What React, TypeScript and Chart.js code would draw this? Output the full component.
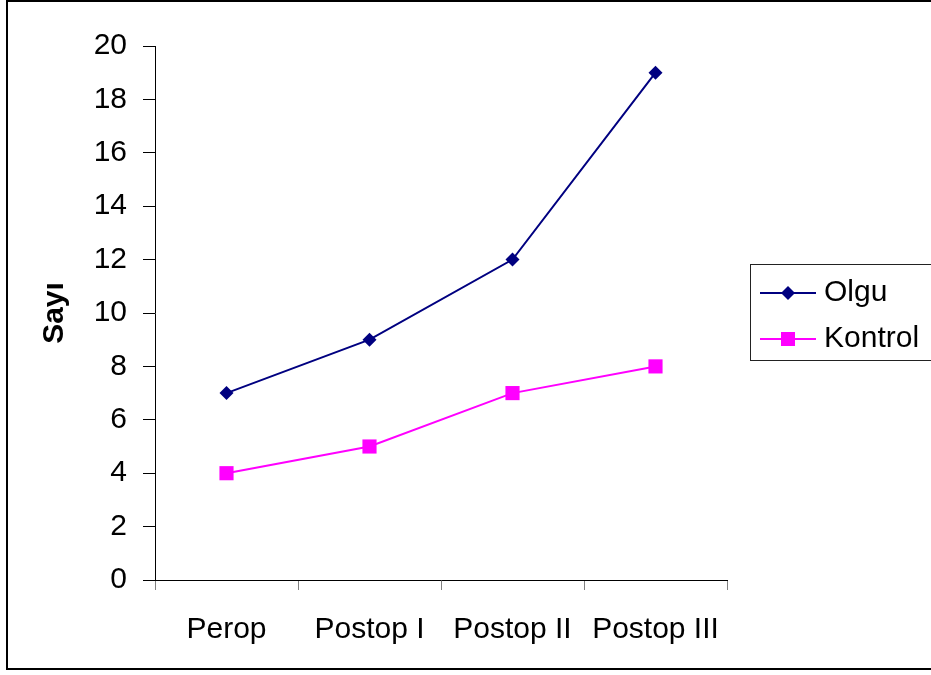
import React, { useEffect, useRef } from "react";
import { Chart, registerables } from "chart.js";

Chart.register(...registerables);

const categories = ["Perop", "Postop I", "Postop II", "Postop III"];
const olguValues = [7, 9, 12, 19];
const kontrolValues = [4, 5, 7, 8];
const seriesNames = ["Olgu", "Kontrol"];
const yTitle = "Sayı";

const FONT = "'Liberation Sans', Arial, sans-serif";

const framePlugin = {
  id: "frame",
  afterDraw(chart: any) {
    const ctx = chart.ctx;
    ctx.save();
    // outer border
    ctx.strokeStyle = "#000";
    ctx.lineWidth = 2;
    ctx.strokeRect(7, 1, 940, 668);
    // legend box
    ctx.lineWidth = 1;
    ctx.strokeStyle = "#222";
    ctx.strokeRect(750.5, 264.5, 200, 96);
    const rows = [293, 339];
    chart.data.datasets.forEach((ds: any, i: number) => {
      const y = rows[i];
      ctx.strokeStyle = ds.borderColor;
      ctx.lineWidth = 2;
      ctx.beginPath();
      ctx.moveTo(760, y);
      ctx.lineTo(816, y);
      ctx.stroke();
      ctx.fillStyle = ds.pointBackgroundColor;
      ctx.beginPath();
      if (ds.pointStyle === "rectRot") {
        const r = 7;
        ctx.moveTo(788, y - r);
        ctx.lineTo(788 + r, y);
        ctx.lineTo(788, y + r);
        ctx.lineTo(788 - r, y);
        ctx.closePath();
      } else {
        ctx.rect(788 - 7, y - 7, 14, 14);
      }
      ctx.fill();
      ctx.fillStyle = "#000";
      ctx.font = `30px ${FONT}`;
      ctx.textBaseline = "middle";
      ctx.textAlign = "left";
      ctx.fillText(ds.label, 824, y);
    });
    ctx.restore();
  },
};

export default function App() {
  const ref = useRef<HTMLCanvasElement>(null);
  useEffect(() => {
    if (!ref.current) return;
    const chart = new Chart(ref.current, {
      type: "line",
      data: {
        labels: categories,
        datasets: [
          {
            label: seriesNames[0],
            data: olguValues,
            borderColor: "#000080",
            backgroundColor: "#000080",
            pointBackgroundColor: "#000080",
            pointBorderColor: "#000080",
            pointStyle: "rectRot",
            pointRadius: 7,
            pointBorderWidth: 0,
            borderWidth: 2,
            tension: 0,
          },
          {
            label: seriesNames[1],
            data: kontrolValues,
            borderColor: "#FF00FF",
            backgroundColor: "#FF00FF",
            pointBackgroundColor: "#FF00FF",
            pointBorderColor: "#FF00FF",
            pointStyle: "rect",
            pointRadius: 10,
            pointBorderWidth: 0,
            borderWidth: 2,
            tension: 0,
          },
        ],
      },
      options: {
        responsive: false,
        animation: false,
        devicePixelRatio: 1,
        layout: { padding: { top: 46, right: 204, bottom: 0, left: 0 } },
        plugins: {
          legend: { display: false },
          tooltip: { enabled: false },
        },
        scales: {
          x: {
            type: "category",
            offset: true,
            grid: {
              offset: true,
              drawOnChartArea: false,
              drawTicks: true,
              tickLength: 10,
              color: "#808080",
            },
            border: { display: true, color: "#000", width: 1 },
            ticks: {
              color: "#000",
              font: { family: FONT, size: 30 },
              padding: 22,
              maxRotation: 0,
              autoSkip: false,
            },
            afterFit: (s: any) => {
              s.height = 95;
            },
          },
          y: {
            min: 0,
            max: 20,
            grid: {
              drawOnChartArea: false,
              drawTicks: true,
              tickLength: 12,
              color: "#000",
            },
            border: { display: true, color: "#000", width: 1 },
            ticks: {
              stepSize: 2,
              color: "#000",
              font: { family: FONT, size: 30 },
              padding: 16,
            },
            title: {
              display: true,
              text: yTitle,
              color: "#000",
              font: { family: FONT, size: 30, weight: "bold" },
              padding: { top: 37, bottom: 0 },
            },
            afterFit: (s: any) => {
              s.width = 155;
            },
          },
        },
      },
      plugins: [framePlugin],
    });
    return () => chart.destroy();
  }, []);
  return (
    <div style={{ position: "fixed", left: 0, top: 0, width: 931, height: 675, background: "#fff" }}>
      <canvas ref={ref} width={931} height={675} style={{ width: 931, height: 675, display: "block" }} />
    </div>
  );
}
